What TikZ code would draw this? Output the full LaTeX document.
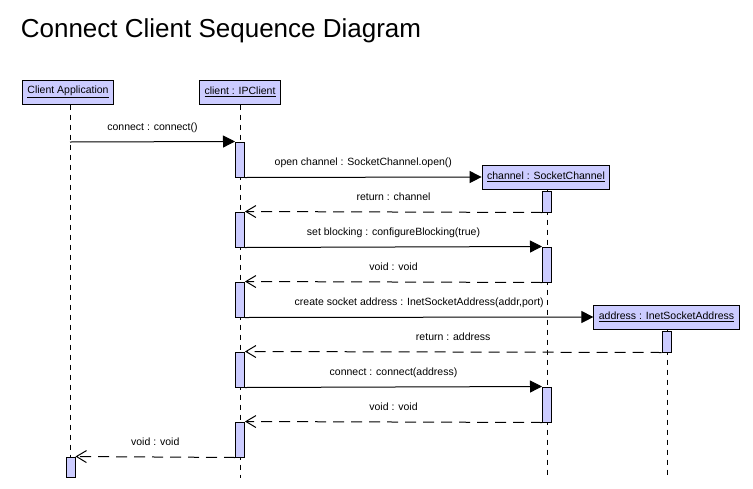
\documentclass[tikz,border=0pt]{standalone}
\usepackage{fontspec}
\setmainfont{Liberation Sans}
\definecolor{ObjFill}{RGB}{204, 204, 255}
\usetikzlibrary{arrows.meta, positioning}

\tikzset{
  object/.style={draw, fill=ObjFill, minimum height=24pt, inner xsep=5pt, font=\fontsize{10.5}{12}\selectfont},
  act/.style={draw, fill=ObjFill, minimum width=9pt, inner sep=0pt},
  lifeline/.style={dash pattern=on 5pt off 5pt},
  call/.style={-{Triangle[length=12pt,width=12pt]}},
  reply/.style={dash pattern=on 11pt off 7pt, -{Straight Barb[length=10pt,width=12pt]}},
  msg/.style={font=\fontsize{10.5}{12}\selectfont, inner sep=0pt, text height=8pt, text depth=3pt, above=8pt}
}

\begin{document}
\begin{tikzpicture}[x=1pt, y=-1pt, line width=1pt]
\useasboundingbox (0,0) rectangle (753,488);
\node[anchor=base west, font=\fontsize{26}{30}\selectfont] (title) at (17,37) {Connect Client Sequence Diagram};

% objects
\node[object] (app) at (68,92) {\underline{Client Application}};
\node[object] (client) at (240,92) {\underline{client : IPClient}};
\node[object] (chan) at (546,177) {\underline{channel : SocketChannel}};
\node[object] (addr) at (666.5,317) {\underline{address : InetSocketAddress}};

% lifelines
\coordinate (bot) at (0,478);
\coordinate (a0) at (70,142);
\draw[lifeline] (app.south -| a0) -- (a0 |- bot);
\draw[lifeline] (client.south) -- (client.south |- bot);
\draw[lifeline] (chan.south -| 547,0) -- (547,478);
\draw[lifeline] (addr.south -| 667,0) -- (667,478);

% activations
\node[act, minimum height=35pt] (c1) at (240,159.5) {};
\node[act, minimum height=35pt] (c2) at (240,229.5) {};
\node[act, minimum height=35pt] (c3) at (240,299.5) {};
\node[act, minimum height=35pt] (c4) at (240,369.5) {};
\node[act, minimum height=35pt] (c5) at (240,439.5) {};
\node[act, minimum height=21pt] (ch1) at (547,201.5) {};
\node[act, minimum height=35pt] (ch2) at (547,264.5) {};
\node[act, minimum height=35pt] (ch3) at (547,404.5) {};
\node[act, minimum height=21pt] (ad1) at (666.5,341.5) {};
\node[act, minimum height=20pt] (a1) at (70.5,467) {};

% messages
\draw[call] (a0) -- (c1.north west) node[msg, midway] {connect : connect()};
\draw[call] (c1.south east) -- (chan.west) node[msg, midway] {open channel : SocketChannel.open()};
\draw[reply] (ch1.south west) -- (c2.north east) node[msg, midway] {return : channel};
\draw[call] (c2.south east) -- (ch2.north west) node[msg, midway] {set blocking : configureBlocking(true)};
\draw[reply] (ch2.south west) -- (c3.north east) node[msg, midway] {void : void};
\draw[call] (c3.south east) -- (addr.west) node[msg, midway] {create socket address : InetSocketAddress(addr,port)};
\draw[reply] (ad1.south west) -- (c4.north east) node[msg, midway] {return : address};
\draw[call] (c4.south east) -- (ch3.north west) node[msg, midway] {connect : connect(address)};
\draw[reply] (ch3.south west) -- (c5.north east) node[msg, midway] {void : void};
\draw[reply] (c5.south west) -- (a1.north east) node[msg, midway] {void : void};
\end{tikzpicture}
\end{document}
